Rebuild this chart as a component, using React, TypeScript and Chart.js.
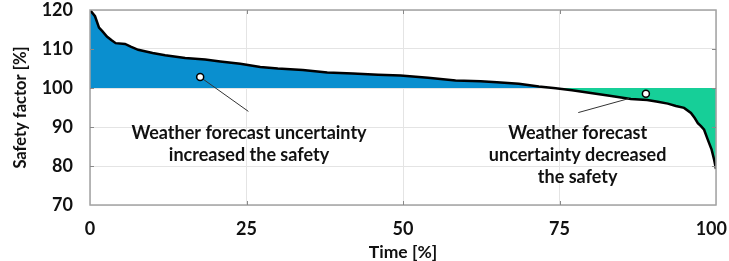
import React, { useEffect, useRef } from "react";
import { Chart, registerables } from "chart.js";

Chart.register(...registerables);

// ---- data ----
const timePct = [
  0, 0.8, 1.44, 2.0, 2.7, 3.4, 4.1, 5.6, 6.5, 7.7, 10, 12, 15.2, 18.4, 20.8, 24,
  27.2, 30, 34, 37.9, 42, 46, 49.6, 54, 58.4, 62.4, 65, 68.5, 71.7, 74.4, 77, 80,
  83, 86.4, 89, 90.7, 92.3, 93.6, 94.9, 96.0, 96.6, 97.1, 97.6, 98.1, 98.7, 99.3,
  99.7, 100,
];
const safetyPct = [
  120, 118.4, 115.5, 114.5, 113.2, 112.3, 111.5, 111.3, 110.6, 109.8, 109.0,
  108.4, 107.7, 107.3, 106.8, 106.2, 105.4, 105.0, 104.6, 104.0, 103.7, 103.4,
  103.2, 102.6, 101.95, 101.7, 101.5, 101.1, 100.4, 99.95, 99.4, 98.7, 98.0, 97.2,
  96.9, 96.5, 96.0, 95.4, 94.9, 93.6, 92.3, 91.0, 90.2, 89.3, 86.7, 84.2, 81.6,
  79.2,
];
const referenceLevel = 100;

const xTickValues = [0, 25, 50, 75, 100];
const xTickLabels = ["0", "25", "50", "75", "100"];
const yTickValues = [70, 80, 90, 100, 110, 120];

const markerTimes = [17.6, 88.8];
const markerValues = [102.8, 98.5];

const leaderLeftTimes = [17.6, 25.3];
const leaderLeftValues = [102.8, 94.0];
const leaderRightTimes = [78.0, 86.1];
const leaderRightValues = [93.7, 97.3];

const noteLeftLines = ["Weather forecast uncertainty", "increased the safety"];
const noteLeftTime = 25.4;
const noteLeftValues = [87.0, 81.35];
const noteRightLines = ["Weather forecast", "uncertainty decreased", "the safety"];
const noteRightTime = 77.9;
const noteRightValues = [87.0, 81.35, 75.7];

const xTitle = "Time [%]";
const yTitle = "Safety factor [%]";

// ---- styles ----
const BLUE = "#0a8fcf";
const GREEN = "#16cf98";
const FONT = "Lato";

function pts(xs: number[], ys: number[]) {
  return xs.map((x, i) => ({ x, y: ys[i] }));
}

const framePlugin = {
  id: "frameAndNotes",
  afterDatasetsDraw(chart: any) {
    const { ctx, chartArea: a, scales } = chart;
    const xs = scales.x;
    const ys = scales.y;
    ctx.save();
    ctx.strokeStyle = "#a3a3a3";
    ctx.lineWidth = 1.5;
    ctx.strokeRect(a.left, a.top, a.right - a.left, a.bottom - a.top);
    ctx.strokeStyle = "#8a8a8a";
    ctx.lineWidth = 1;
    const L = 4;
    xTickValues.slice(1, -1).forEach((v) => {
      const px = Math.round(xs.getPixelForValue(v)) + 0.5;
      ctx.beginPath();
      ctx.moveTo(px, a.top);
      ctx.lineTo(px, a.top + L);
      ctx.moveTo(px, a.bottom);
      ctx.lineTo(px, a.bottom - L);
      ctx.stroke();
    });
    yTickValues.slice(1, -1).forEach((v) => {
      const py = Math.round(ys.getPixelForValue(v)) + 0.5;
      ctx.beginPath();
      ctx.moveTo(a.left, py);
      ctx.lineTo(a.left + L, py);
      ctx.moveTo(a.right, py);
      ctx.lineTo(a.right - L, py);
      ctx.stroke();
    });
    // x tick labels (kept inside the canvas)
    ctx.fillStyle = "#111";
    ctx.font = `bold 18px ${FONT}`;
    ctx.textAlign = "center";
    ctx.textBaseline = "middle";
    xTickValues.forEach((v, i) => {
      const w = ctx.measureText(xTickLabels[i]).width;
      const px = Math.min(xs.getPixelForValue(v), chart.width - 2 - w / 2);
      ctx.fillText(xTickLabels[i], px, a.bottom + 24);
    });
    // annotations
    ctx.textBaseline = "alphabetic";
    noteLeftLines.forEach((t, i) => {
      ctx.fillText(t, xs.getPixelForValue(noteLeftTime), ys.getPixelForValue(noteLeftValues[i]));
    });
    noteRightLines.forEach((t, i) => {
      ctx.fillText(t, xs.getPixelForValue(noteRightTime), ys.getPixelForValue(noteRightValues[i]));
    });
    ctx.restore();
  },
};

export default function App() {
  const ref = useRef<HTMLCanvasElement | null>(null);

  useEffect(() => {
    document.body.style.margin = "0";
    const canvas = ref.current;
    if (!canvas) return;
    const zeroPad = (s: any) => {
      s.paddingTop = 0;
      s.paddingBottom = 0;
      s.paddingLeft = 0;
      s.paddingRight = 0;
    };
    const chart = new Chart(canvas, {
      type: "line",
      data: {
        datasets: [
          {
            data: pts(markerTimes, markerValues),
            showLine: false,
            pointRadius: 3.5,
            pointBackgroundColor: "#ffffff",
            pointBorderColor: "#000000",
            pointBorderWidth: 1.5,
            order: 0,
          },
          {
            data: pts(leaderLeftTimes, leaderLeftValues),
            borderColor: "#333333",
            borderWidth: 1,
            pointRadius: 0,
            fill: false,
            order: 1,
          },
          {
            data: pts(leaderRightTimes, leaderRightValues),
            borderColor: "#333333",
            borderWidth: 1,
            pointRadius: 0,
            fill: false,
            order: 1,
          },
          {
            data: pts(timePct, safetyPct),
            borderColor: "#000000",
            borderWidth: 2.5,
            pointRadius: 0,
            tension: 0,
            fill: { value: referenceLevel, above: BLUE, below: GREEN } as any,
            order: 2,
          },
        ],
      },
      options: {
        animation: false,
        responsive: false,
        devicePixelRatio: 1,
        layout: { padding: { top: 10, right: 13, left: 0, bottom: 0 } },
        plugins: { legend: { display: false }, tooltip: { enabled: false } },
        scales: {
          x: {
            type: "linear",
            min: 0,
            max: 100,
            afterBuildTicks: (s: any) => {
              s.ticks = xTickValues.map((v) => ({ value: v }));
            },
            afterFit: (s: any) => {
              s.height = 56;
              zeroPad(s);
            },
            grid: { color: "#e4e4e4", drawTicks: false, lineWidth: 1 },
            border: { display: false },
            ticks: { display: false },
            title: {
              display: true,
              text: xTitle,
              color: "#111",
              font: { family: FONT, size: 17.5, weight: "bold", lineHeight: 1 },
              padding: { top: 0, bottom: 0 },
            },
          },
          y: {
            min: 70,
            max: 120,
            afterBuildTicks: (s: any) => {
              s.ticks = yTickValues.map((v) => ({ value: v }));
            },
            afterFit: (s: any) => {
              s.width = 90;
              zeroPad(s);
            },
            grid: { color: "#e4e4e4", drawTicks: false, lineWidth: 1 },
            border: { display: false },
            ticks: {
              padding: 17,
              color: "#111",
              font: { family: FONT, size: 18, weight: "bold" },
            },
            title: {
              display: true,
              text: yTitle,
              color: "#111",
              font: { family: FONT, size: 16.5, weight: "bold", lineHeight: 1 },
              padding: { top: 12, bottom: 0 },
            },
          },
        },
      },
      plugins: [framePlugin],
    });
    return () => chart.destroy();
  }, []);

  return (
    <div style={{ width: 729, height: 261, background: "#fff" }}>
      <canvas ref={ref} width={729} height={261} style={{ width: 729, height: 261, display: "block" }} />
    </div>
  );
}
